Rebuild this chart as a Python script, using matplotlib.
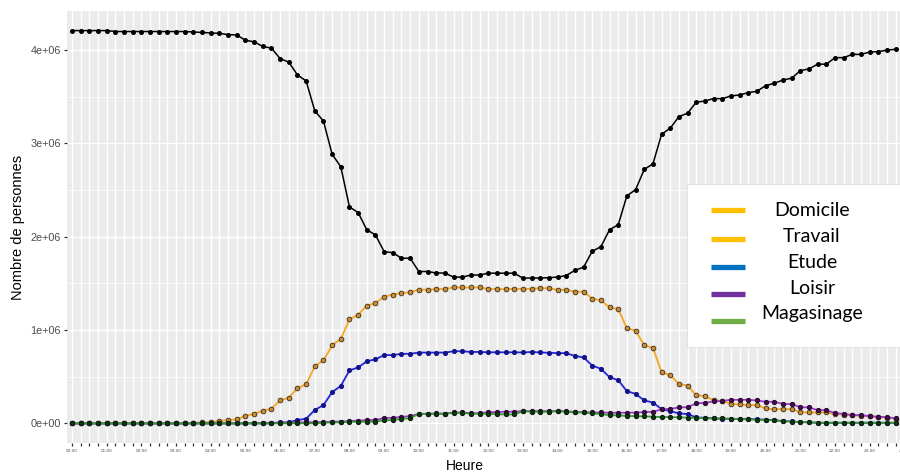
import numpy as np
import matplotlib
matplotlib.use("Agg")
import matplotlib.pyplot as plt
from matplotlib.lines import Line2D
from matplotlib.patches import Rectangle

# one value every 15 minutes, 00:00 -> 23:45 (millions of people)
heures = ["%02d:%02d" % (h, m) for h in range(24) for m in (0, 15, 30, 45)]

domicile = np.array([
    4.21, 4.21, 4.21, 4.21,  4.21, 4.20, 4.20, 4.20,  4.20, 4.20, 4.20, 4.20,
    4.20, 4.20, 4.195, 4.19,  4.185, 4.18, 4.167, 4.163,  4.106, 4.09, 4.04, 4.022,
    3.91, 3.872, 3.735, 3.67,  3.35, 3.24, 2.885, 2.75,  2.32, 2.26, 2.075, 2.02,
    1.84, 1.83, 1.77, 1.77,  1.628, 1.628, 1.612, 1.612,  1.568, 1.568, 1.59, 1.59,
    1.61, 1.61, 1.61, 1.61,  1.557, 1.558, 1.558, 1.562,  1.568, 1.585, 1.64, 1.674,
    1.845, 1.894, 2.076, 2.13,  2.44, 2.505, 2.722, 2.782,  3.098, 3.165, 3.288, 3.325,
    3.443, 3.455, 3.482, 3.48,  3.51, 3.52, 3.545, 3.56,  3.62, 3.645, 3.68, 3.70,
    3.78, 3.80, 3.85, 3.85,  3.92, 3.92, 3.955, 3.955,  3.98, 3.985, 4.00, 4.01])

travail = np.array([
    0, 0, 0, 0,  0, 0, 0, 0,  0, 0, 0, 0,
    0, 0, 0.007, 0.01,  0.016, 0.025, 0.036, 0.042,  0.082, 0.102, 0.136, 0.158,
    0.246, 0.276, 0.376, 0.42,  0.612, 0.675, 0.837, 0.906,  1.115, 1.165, 1.262, 1.289,
    1.36, 1.38, 1.398, 1.404,  1.435, 1.433, 1.439, 1.442,  1.457, 1.457, 1.457, 1.457,
    1.442, 1.439, 1.439, 1.442,  1.442, 1.442, 1.449, 1.449,  1.432, 1.432, 1.412, 1.412,
    1.337, 1.318, 1.243, 1.225,  1.019, 0.994, 0.837, 0.809,  0.548, 0.516, 0.424, 0.405,
    0.301, 0.292, 0.247, 0.24,  0.21, 0.203, 0.196, 0.196,  0.16, 0.153, 0.153, 0.153,
    0.121, 0.117, 0.117, 0.117,  0.1, 0.095, 0.085, 0.082,  0.075, 0.068, 0.062, 0.05])

etude = np.array([
    0, 0, 0, 0,  0, 0, 0, 0,  0, 0, 0, 0,
    0, 0, 0, 0,  0, 0, 0, 0,  0, 0, 0, 0,
    0.011, 0.011, 0.036, 0.05,  0.144, 0.196, 0.335, 0.402,  0.568, 0.6, 0.666, 0.687,
    0.732, 0.732, 0.746, 0.746,  0.759, 0.759, 0.759, 0.759,  0.773, 0.773, 0.766, 0.766,
    0.762, 0.762, 0.762, 0.762,  0.76, 0.766, 0.76, 0.757,  0.753, 0.753, 0.723, 0.707,
    0.62, 0.585, 0.495, 0.463,  0.345, 0.317, 0.246, 0.224,  0.153, 0.132, 0.107, 0.1,
    0.064, 0.06, 0.053, 0.05,  0.05, 0.046, 0.046, 0.043,  0.04, 0.036, 0.025, 0.021,
    0.014, 0.011, 0.007, 0.007,  0.007, 0.007, 0.007, 0.007,  0.007, 0.007, 0.007, 0.007])

loisir = np.array([
    0, 0, 0, 0,  0, 0, 0, 0,  0, 0, 0, 0,
    0, 0, 0, 0,  0, 0, 0, 0,  0.002, 0.003, 0.005, 0.007,
    0.008, 0.008, 0.01, 0.012,  0.014, 0.016, 0.018, 0.02,  0.025, 0.03, 0.035, 0.036,
    0.058, 0.06, 0.07, 0.078,  0.103, 0.103, 0.107, 0.105,  0.117, 0.117, 0.11, 0.11,
    0.121, 0.121, 0.125, 0.125,  0.132, 0.132, 0.132, 0.132,  0.132, 0.132, 0.121, 0.121,
    0.117, 0.117, 0.114, 0.114,  0.115, 0.116, 0.121, 0.125,  0.15, 0.156, 0.171, 0.174,
    0.214, 0.221, 0.235, 0.242,  0.253, 0.253, 0.253, 0.246,  0.232, 0.232, 0.21, 0.206,
    0.174, 0.171, 0.142, 0.142,  0.11, 0.103, 0.089, 0.089,  0.078, 0.071, 0.068, 0.053])

magasinage = np.array([
    0, 0, 0, 0,  0, 0, 0, 0,  0, 0, 0, 0,
    0, 0, 0, 0,  0, 0, 0, 0,  0, 0, 0, 0,
    0.002, 0.002, 0.002, 0.002,  0.002, 0.007, 0.011, 0.011,  0.018, 0.018, 0.018, 0.018,
    0.035, 0.035, 0.05, 0.055,  0.103, 0.102, 0.103, 0.103,  0.114, 0.114, 0.103, 0.103,
    0.103, 0.1, 0.096, 0.096,  0.13, 0.125, 0.125, 0.125,  0.13, 0.125, 0.117, 0.117,
    0.108, 0.1, 0.089, 0.086,  0.08, 0.078, 0.076, 0.071,  0.069, 0.067, 0.065, 0.062,
    0.06, 0.055, 0.053, 0.053,  0.05, 0.046, 0.043, 0.04,  0.036, 0.033, 0.021, 0.02,
    0.014, 0.012, 0.007, 0.007,  0.007, 0.007, 0.007, 0.007,  0.007, 0.007, 0.007, 0.007])

legend_labels = ["Domicile", "Travail", "Etude", "Loisir", "Magasinage"]
legend_colors = ["#FFC000", "#FFC000", "#0070C0", "#7030A0", "#70AD47"]

# ---- figure ----
fig = plt.figure(figsize=(9, 4.73), dpi=100)
W, H = 900, 473
# panel runs past the right edge of the picture (cropped in the original)
ax = fig.add_axes([67 / W, 30 / H, (910 - 67) / W, (443 - 11) / H])
ax.set_facecolor("#EBEBEB")
for s in ax.spines.values():
    s.set_visible(False)

x = np.arange(len(heures))
ticks = np.arange(len(heures) + 1)
tick_labels = [h if h.endswith(":00") else "" for h in heures] + ["24:00"]

ax.set_xlim(-0.58, 96.65)
ax.set_ylim(-0.21e6, 4.42e6)
ax.set_xticks(ticks)
ax.set_xticklabels(tick_labels, fontsize=3.0, color="#4D4D4D")
ax.set_yticks([0, 1e6, 2e6, 3e6, 4e6])
ax.set_yticklabels(["0e+00", "1e+06", "2e+06", "3e+06", "4e+06"],
                   fontsize=7.8, color="#4D4D4D", family="Liberation Sans")
ax.set_yticks([0.5e6, 1.5e6, 2.5e6, 3.5e6], minor=True)
ax.tick_params(axis="x", length=2.5, width=0.9, color="#333333", pad=1.5)
ax.tick_params(axis="y", length=2.5, width=0.9, color="#333333", pad=2)
ax.tick_params(axis="y", which="minor", length=0)
ax.grid(True, which="major", color="white", linewidth=1.0)
ax.grid(True, which="minor", axis="y", color="white", linewidth=0.5)
ax.set_axisbelow(True)

ax.set_xlabel("Heure", fontsize=10, family="Liberation Sans", va="center")
ax.xaxis.set_label_coords((465 - 67) / (910 - 67), -(466 - 443) / (443 - 11))
ax.set_ylabel("Nombre de personnes", fontsize=10.5, family="Liberation Sans", labelpad=4)

M = 1e6
ax.plot(x, domicile * M, color="black", lw=1.1, marker="o", ms=2.6,
        mfc="black", mec="black", zorder=3)
ax.plot(x, travail * M, color="#F5A623", lw=1.3, marker="o", ms=3.4,
        mfc="#C8903C", mec="#3A2A10", mew=0.6, zorder=3)
ax.plot(x, etude * M, color="#2424D8", lw=1.3, marker="o", ms=2.7,
        mfc="#14148A", mec="#14148A", zorder=3)
ax.plot(x, loisir * M, color="#A035D8", lw=1.3, marker="o", ms=2.8,
        mfc="#4A1450", mec="#2A0A2A", zorder=3)
ax.plot(x, magasinage * M, color="#2E9E2E", lw=1.3, marker="o", ms=2.8,
        mfc="#173A17", mec="#0A200A", zorder=3)

# pasted legend box
fig.add_artist(Rectangle((687 / W, 1 - 347 / H), (W - 687) / W, (347 - 184) / H,
                         transform=fig.transFigure, facecolor="white",
                         edgecolor="#DDDDDD", linewidth=0.6, zorder=10))
line_y = [210.3, 238.7, 267.3, 294.3, 320.7]
text_y = [210, 236, 262.5, 288, 313]
for lab, col, ly, ty in zip(legend_labels, legend_colors, line_y, text_y):
    fig.add_artist(Line2D([711 / W, 745 / W], [1 - ly / H, 1 - ly / H],
                          transform=fig.transFigure, color=col, lw=3.8,
                          solid_capstyle="butt", zorder=11))
    fig.text(812 / W, 1 - ty / H, lab, ha="center", va="center",
             fontsize=14, family="Lato", color="black", zorder=12)

fig.savefig("out.png", dpi=100)
